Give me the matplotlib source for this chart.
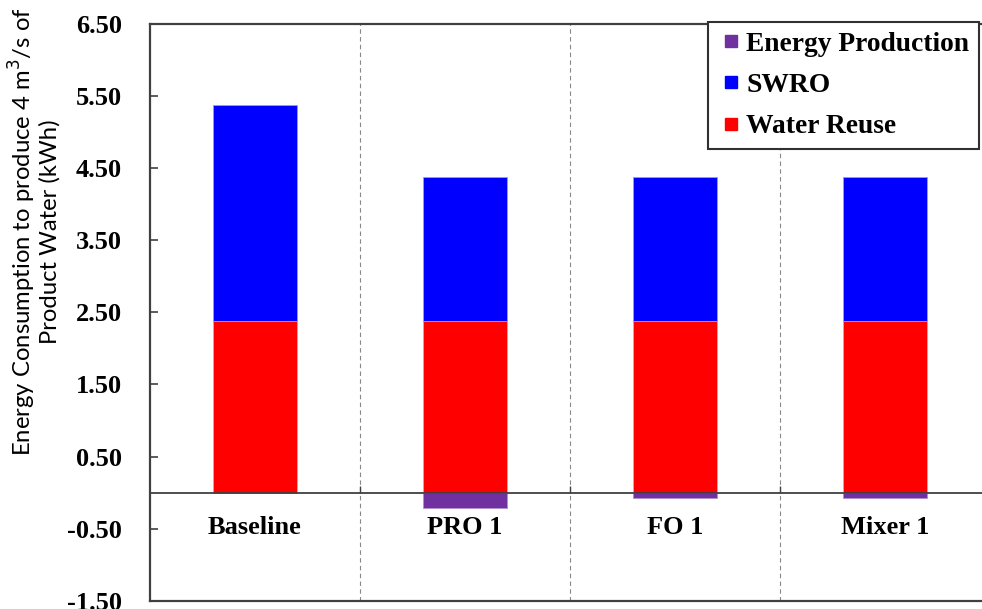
import matplotlib
matplotlib.use("Agg")
import matplotlib.pyplot as plt
import numpy as np
from matplotlib.ticker import FixedLocator, FormatStrFormatter
from matplotlib.lines import Line2D
from matplotlib.font_manager import FontProperties

categories = ["Baseline", "PRO 1", "FO 1", "Mixer 1"]
water_reuse = [2.38, 2.38, 2.38, 2.38]
swro = [3.00, 2.00, 2.00, 2.00]
energy_production = [0.00, -0.22, -0.08, -0.08]
y_ticks = [-1.5, -0.5, 0.5, 1.5, 2.5, 3.5, 4.5, 5.5, 6.5]

C_RED = "#FF0000"
C_BLUE = "#0000FF"
C_PURPLE = "#7030A0"

fig = plt.figure(figsize=(9.82, 6.09), dpi=100)
ax = fig.add_axes([150 / 982, 8.3 / 609, 840 / 982, (600.7 - 24) / 609])

x = np.arange(len(categories))
w = 0.4
ax.bar(x, water_reuse, w, color=C_RED, edgecolor="#ff9999", linewidth=0.6, zorder=3)
ax.bar(x, swro, w, bottom=water_reuse, color=C_BLUE, edgecolor="#9999ff", linewidth=0.6, zorder=3)
ax.bar(x, energy_production, w, color=C_PURPLE, edgecolor="#b090d0", linewidth=0.6, zorder=3)

ax.set_xlim(-0.5, len(categories) - 0.5)
ax.set_ylim(-1.5, 6.5)

# dividers
for xv in [0.5, 1.5, 2.5]:
    ax.axvline(xv, color="#888888", linestyle=(0, (4, 3)), linewidth=0.8, zorder=1)

# spines
ax.spines["bottom"].set_position(("data", 0))
ax.spines["bottom"].set_color("#404040")
ax.spines["bottom"].set_linewidth(1.3)
ax.spines["bottom"].set_zorder(4)
ax.spines["left"].set_color("#404040")
ax.spines["left"].set_linewidth(1.6)
ax.spines["top"].set_color("#404040")
ax.spines["top"].set_linewidth(1.6)
ax.spines["right"].set_visible(False)
ax.plot([0, 1], [0, 0], transform=ax.transAxes, color="#404040", lw=1.6, clip_on=False, zorder=5)

serif_bold = FontProperties(family="Liberation Serif", weight="bold", size=19)
legend_font = FontProperties(family="Liberation Serif", weight="bold", size=19.8)

ax.yaxis.set_major_locator(FixedLocator(y_ticks))
ax.yaxis.set_major_formatter(FormatStrFormatter("%.2f"))
ax.tick_params(axis="y", direction="in", length=6, width=1.2, color="#404040", pad=20)
for lab in ax.get_yticklabels():
    lab.set_fontproperties(serif_bold)

ax.set_xticks(x)
ax.set_xticklabels(categories)
ax.set_xticks([0.5, 1.5, 2.5], minor=True)
ax.tick_params(axis="x", which="major", length=0, pad=17)
ax.tick_params(axis="x", which="minor", direction="in", length=5, width=1.0, color="#404040")
for lab in ax.get_xticklabels():
    lab.set_fontproperties(serif_bold)

fig.text(34 / 982, 1 - 232 / 609, "Energy Consumption to produce 4 m$^3$/s of\nProduct Water (kWh)",
         rotation=90, ha="center", va="center", fontsize=17.2, family="Lato", linespacing=1.05)

handles = [
    Line2D([], [], marker="s", linestyle="none", markersize=9, color=C_PURPLE, label="Energy Production"),
    Line2D([], [], marker="s", linestyle="none", markersize=9, color=C_BLUE, label="SWRO"),
    Line2D([], [], marker="s", linestyle="none", markersize=9, color=C_RED, label="Water Reuse"),
]
leg = ax.legend(handles=handles, loc="upper left",
                bbox_to_anchor=(708 / 982, 1 - 22 / 609), bbox_transform=fig.transFigure,
                prop=legend_font,
                handlelength=1.0, handletextpad=0.05, labelspacing=0.58,
                fancybox=False, framealpha=1, edgecolor="#303030", borderpad=0.35, borderaxespad=0)
leg.get_frame().set_linewidth(1.5)
leg.set_zorder(10)

fig.savefig("out.png", dpi=100)
